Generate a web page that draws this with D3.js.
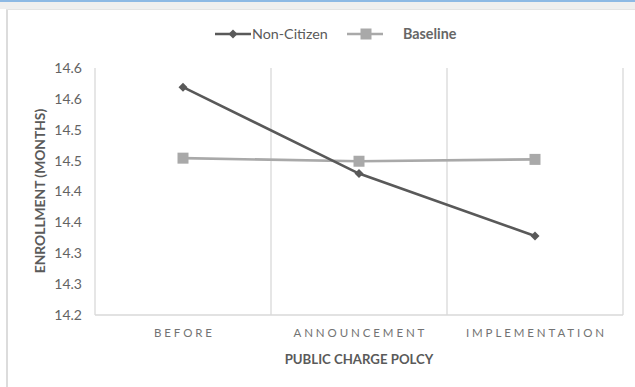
<!DOCTYPE html>
<html>
<head>
<meta charset="utf-8">
<script src="https://cdnjs.cloudflare.com/ajax/libs/d3/7.8.5/d3.min.js"></script>
<style>
  html, body { margin: 0; padding: 0; background: #fff; }
  svg { display: block; font-family: Lato, "Open Sans", sans-serif; }
</style>
</head>
<body>
<svg id="chart" width="635" height="387"></svg>
<script>
// Enrollment in months by public charge policy phase
const categories = ["BEFORE", "ANNOUNCEMENT", "IMPLEMENTATION"];
const nonCitizen = [14.569, 14.429, 14.328];
const baseline = [14.454, 14.449, 14.452];
const yTicks = [14.2, 14.25, 14.3, 14.35, 14.4, 14.45, 14.5, 14.55, 14.6];
const yTickLabels = ["14.2", "14.3", "14.3", "14.4", "14.4", "14.5", "14.5", "14.6", "14.6"];

const svg = d3.select("#chart");
const W = 635, H = 387;

// window frame around the chart
svg.append("rect").attr("x", 0).attr("y", 0).attr("width", W).attr("height", 9).attr("fill", "#efefef");
svg.append("rect").attr("x", 0).attr("y", 0).attr("width", W).attr("height", 2).attr("fill", "#8db9e4");
svg.append("rect").attr("x", 6).attr("y", 9).attr("width", 2).attr("height", H - 9).attr("fill", "#dcdcdc");
svg.append("rect").attr("x", 6).attr("y", 9).attr("width", W - 6).attr("height", 1).attr("fill", "#e4e4e4");

const plot = { left: 95, right: 623, top: 68, bottom: 315 };

const x = d3.scaleBand().domain(categories).range([plot.left, plot.right]).paddingInner(0).paddingOuter(0);
const y = d3.scaleLinear().domain([14.2, 14.6]).range([plot.bottom, plot.top]);

const grid = "#d9d9d9";

// vertical separators between categories, plus plot frame (left, right, bottom)
const bounds = categories.map(c => x(c)).concat([x(categories[categories.length - 1]) + x.bandwidth()]);
svg.append("g").selectAll("line").data(bounds).join("line")
  .attr("x1", d => d).attr("x2", d => d)
  .attr("y1", plot.top).attr("y2", plot.bottom)
  .attr("stroke", grid).attr("stroke-width", 1.3);
svg.append("line")
  .attr("x1", plot.left).attr("x2", plot.right)
  .attr("y1", plot.bottom).attr("y2", plot.bottom)
  .attr("stroke", grid).attr("stroke-width", 1.3);

// y axis labels
const yAxis = d3.axisLeft(y).tickValues(yTicks)
  .tickFormat((d, i) => yTickLabels[i]).tickSize(0).tickPadding(13);
const yg = svg.append("g").attr("transform", `translate(${plot.left},0)`).call(yAxis);
yg.select(".domain").remove();
yg.selectAll("text").attr("font-size", 14).attr("fill", "#636363")
  .attr("font-family", "Lato, sans-serif");

// x axis labels
const xAxis = d3.axisBottom(x).tickSize(0).tickPadding(14);
const xg = svg.append("g").attr("transform", `translate(0,${plot.bottom})`).call(xAxis);
xg.select(".domain").remove();
xg.selectAll("text").attr("font-size", 11.5).attr("fill", "#737373")
  .attr("letter-spacing", "2.9px").attr("dx", "1.4px")
  .attr("font-family", "Lato, sans-serif");

// axis titles
svg.append("text").attr("x", 359).attr("y", 364).attr("text-anchor", "middle")
  .attr("font-size", 13.2).attr("font-weight", "bold").attr("fill", "#5a5a5a")
  .text("PUBLIC CHARGE POLCY");
svg.append("text").attr("transform", "translate(45,191) rotate(-90)").attr("text-anchor", "middle")
  .attr("font-size", 13.8).attr("font-weight", "bold").attr("fill", "#5a5a5a")
  .text("ENROLLMENT (MONTHS)");

const cx = c => x(c) + x.bandwidth() / 2;

const series = [
  { name: "Non-Citizen", values: nonCitizen, color: "#595959", marker: "diamond" },
  { name: "Baseline", values: baseline, color: "#a9a9a9", marker: "square" }
];

const line = d3.line().x((d, i) => cx(categories[i])).y(d => y(d));

function drawMarker(g, type, px, py, color) {
  if (type === "diamond") {
    g.append("path")
      .attr("d", d3.symbol(d3.symbolDiamond2, 52)())
      .attr("transform", `translate(${px},${py})`)
      .attr("fill", color);
  } else {
    g.append("rect").attr("x", px - 5.5).attr("y", py - 5.5)
      .attr("width", 11).attr("height", 11).attr("fill", color);
  }
}

// baseline drawn first so the non-citizen line sits on top
[series[1], series[0]].forEach(s => {
  const g = svg.append("g");
  g.append("path").datum(s.values).attr("d", line)
    .attr("fill", "none").attr("stroke", s.color).attr("stroke-width", 2.6);
  s.values.forEach((v, i) => drawMarker(g, s.marker, cx(categories[i]), y(v), s.color));
});

// legend
const lg = svg.append("g");
const ly = 34;
lg.append("line").attr("x1", 215).attr("x2", 251).attr("y1", ly).attr("y2", ly)
  .attr("stroke", series[0].color).attr("stroke-width", 2.6);
drawMarker(lg, "diamond", 233, ly, series[0].color);
lg.append("text").attr("x", 252).attr("y", ly + 5).attr("font-size", 14.3)
  .attr("fill", "#5a5a5a").text("Non-Citizen");
lg.append("line").attr("x1", 347).attr("x2", 383).attr("y1", ly).attr("y2", ly)
  .attr("stroke", series[1].color).attr("stroke-width", 2.6);
drawMarker(lg, "square", 366, ly, series[1].color);
lg.append("text").attr("x", 403).attr("y", ly + 5).attr("font-size", 14.3).attr("font-weight", "bold")
  .attr("fill", "#666666").text("Baseline");
</script>
</body>
</html>
